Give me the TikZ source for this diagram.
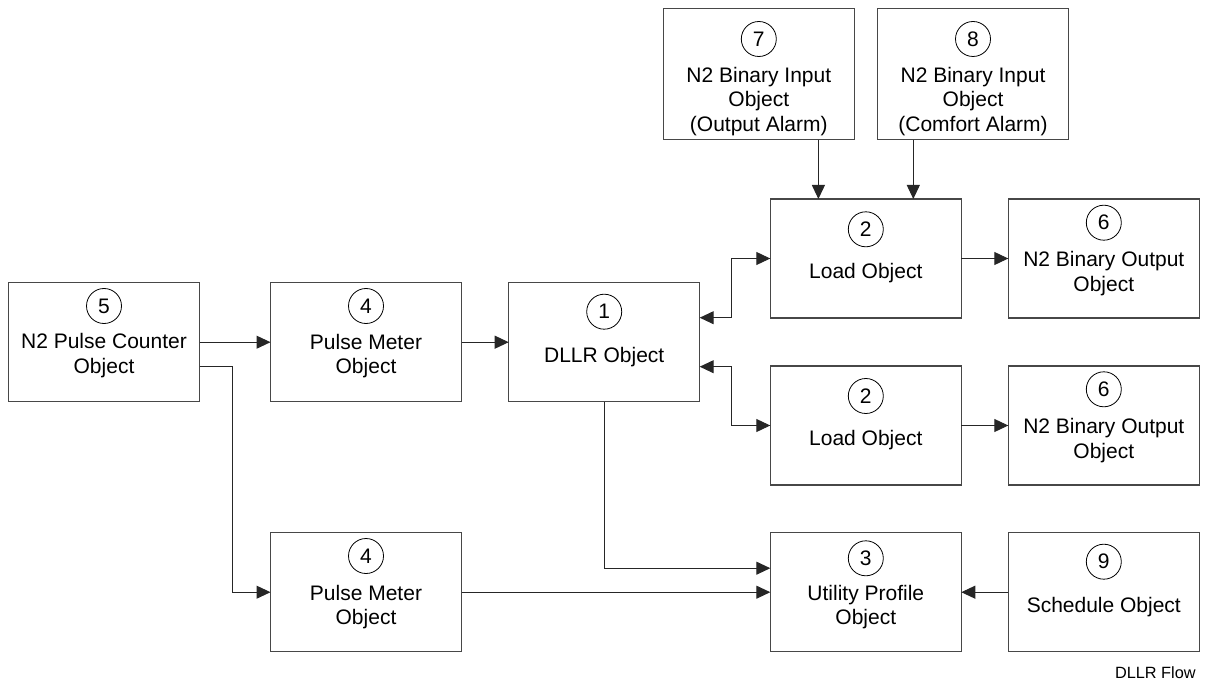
\documentclass[tikz,border=0pt]{standalone}
\usepackage{fontspec}
\setmainfont{Liberation Sans}
\usetikzlibrary{arrows.meta,calc}
\newcommand\bfnt{\fontsize{21}{24.6}\selectfont}
\newcommand\sfnt{\fontsize{16.3}{19.5}\selectfont}
\newcommand\ml[1]{\begin{tabular}[t]{@{}c@{}}#1\end{tabular}}
\begin{document}
\begin{tikzpicture}[x=1pt,y=-1pt,
 box/.style={draw=black!72, line width=1.1pt, minimum width=191pt, minimum height=119pt, inner sep=0pt, outer sep=0pt},
 tallbox/.style={box, minimum height=131.5pt},
 num/.style={circle, draw=black, line width=0.8pt, minimum size=35pt, inner sep=0pt, font=\bfnt},
 lbl/.style={anchor=base, inner sep=0pt, font=\bfnt},
 conn/.style={draw=black!85, line width=1pt, -{Triangle[length=14pt,width=13pt]}},
 conn2/.style={draw=black!85, line width=1pt, {Triangle[length=14pt,width=13pt]}-{Triangle[length=14pt,width=13pt]}}]
\useasboundingbox (0,0) rectangle (1206,684);

% boxes
\node[box] (b5) at (104,342.2) {};
\node[box] (b4a) at (366,342.2) {};
\node[box] (b1) at (604.2,342.2) {};
\node[box] (b2a) at (865.8,258.5) {};
\node[box] (b6a) at (1103.8,258.5) {};
\node[tallbox] (b7) at (758.8,73.9) {};
\node[tallbox] (b8) at (973,73.9) {};
\node[box] (b2b) at (865.8,425.5) {};
\node[box] (b6b) at (1103.8,425.5) {};
\node[box] (b4b) at (366,592.2) {};
\node[box] (b3) at (865.8,592.2) {};
\node[box] (b9) at (1103.8,592.2) {};

% numbers
\node[num] (n5) at (104,306) {5};
\node[num] (n4a) at (366,306) {4};
\node[num] (n1) at (604.2,311.7) {1};
\node[num] (n2a) at (865.8,229.3) {2};
\node[num] (n6a) at (1103.8,222.7) {6};
\node[num] (n7) at (758.8,39) {7};
\node[num] (n8) at (973,39) {8};
\node[num] (n2b) at (865.8,396) {2};
\node[num] (n6b) at (1103.8,389.3) {6};
\node[num] (n4b) at (366,556) {4};
\node[num] (n3) at (865.8,558.3) {3};
\node[num] (n9) at (1103.8,561.7) {9};

% labels
\node[lbl] (t5) at (104,348.7) {\ml{N2 Pulse Counter\\Object}};
\node[lbl] (t4a) at (366,349) {\ml{Pulse Meter\\Object}};
\node[lbl] (t1) at (604.2,362.7) {DLLR Object};
\node[lbl] (t2a) at (865.8,278.3) {Load Object};
\node[lbl] (t6a) at (1103.8,266.7) {\ml{N2 Binary Output\\Object}};
\node[lbl] (t7) at (758.8,82.3) {\ml{N2 Binary Input\\Object\\(Output Alarm)}};
\node[lbl] (t8) at (973,82.3) {\ml{N2 Binary Input\\Object\\(Comfort Alarm)}};
\node[lbl] (t2b) at (865.8,445) {Load Object};
\node[lbl] (t6b) at (1103.8,433.5) {\ml{N2 Binary Output\\Object}};
\node[lbl] (t4b) at (366,600) {\ml{Pulse Meter\\Object}};
\node[lbl] (t3) at (865.8,600) {\ml{Utility Profile\\Object}};
\node[lbl] (t9) at (1103.8,612.3) {Schedule Object};

\node[anchor=base, inner sep=0pt, font=\sfnt] (cap) at (1155.3,678.3) {DLLR Flow};

% connectors
\draw[conn] (b5.east) -- (b4a.west);
\coordinate (p5) at ($(b5.east)+(0,24.5)$);
\draw[conn] (p5) -| ($(b4b.west)+(-37.6,0)$) -- (b4b.west);
\draw[conn] (b4a.east) -- (b1.west);
\draw[conn2] ($(b1.east)+(0,-24.5)$) -| ($(b2a.west)+(-38.4,0)$) -- (b2a.west);
\draw[conn2] ($(b1.east)+(0,24.5)$) -| ($(b2b.west)+(-38.4,0)$) -- (b2b.west);
\draw[conn] (b1.south) |- ($(b3.west)+(0,-24)$);
\draw[conn] (b4b.east) -- (b3.west);
\draw[conn] (b9.west) -- (b3.east);
\draw[conn] (b2a.east) -- (b6a.west);
\draw[conn] (b2b.east) -- (b6b.west);
\coordinate (s7) at ($(b7.south)+(59.6,0)$);
\draw[conn] (s7) -- (s7 |- b2a.north);
\coordinate (s8) at ($(b8.south)+(-59.7,0)$);
\draw[conn] (s8) -- (s8 |- b2a.north);
\end{tikzpicture}
\end{document}
